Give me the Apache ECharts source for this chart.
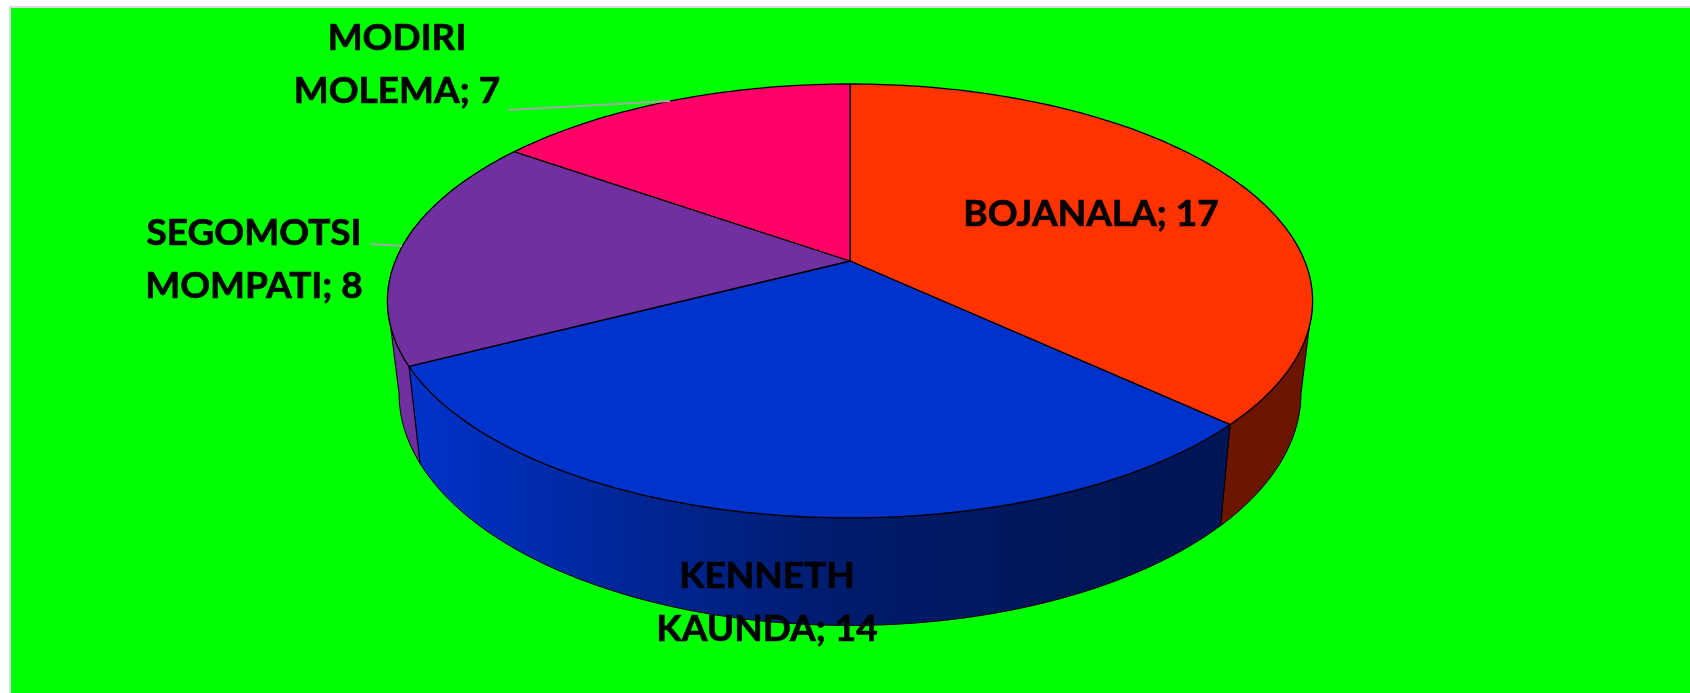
<!DOCTYPE html>
<html>
<head>
<meta charset="utf-8">
<script src="https://cdn.jsdelivr.net/npm/echarts@6/dist/echarts.min.js"></script>
<style>html,body{margin:0;padding:0;background:#fff}#c{width:1690px;height:693px}</style>
</head>
<body>
<div id="c"></div>
<script>
const categories = ['BOJANALA', 'KENNETH\nKAUNDA', 'SEGOMOTSI\nMOMPATI', 'MODIRI\nMOLEMA'];
const values = [17, 14, 8, 7];
const colors = ['#FF3300', '#0033CC', '#7030A0', '#FF0066'];

// Perspective model of the tilted disc
const K = 0.184;
const TOP = {cx: 850, cy: 261, R: 454.7, H: 209.6};
const BOTTOM = {cx: 850, cy: 350.6, R: 443.3, H: 224.3};
const WALL_FROM = 100.6, WALL_TO = 259.4;
const labelPlace = [
  {x: 1091, y: 214},
  {x: 767, y: 603},
  {x: 254, y: 260},
  {x: 397, y: 65}
];
const leaders = [null, null, [[371, 244], [402, 246]], [[508, 110], [670, 101]]];
const FONT = 'bold 37px Lato, "Open Sans", sans-serif';

const total = values.reduce((a, b) => a + b, 0);
function startDeg(i) {
  let s = 0;
  for (let j = 0; j < i; j++) s += values[j];
  return s / total * 360;
}
function project(p, deg) {
  const t = deg * Math.PI / 180;
  const u = Math.sin(t), v = -Math.cos(t), w = 1 - K * v;
  return [p.cx + p.R * u / w, p.cy + p.H * v / w];
}
function arc(p, a, b) {
  const pts = [], n = Math.max(2, Math.ceil(Math.abs(b - a)));
  for (let i = 0; i <= n; i++) pts.push(project(p, a + (b - a) * i / n));
  return pts;
}
function shade(hex, f) {
  const n = parseInt(hex.slice(1), 16);
  const c = s => Math.round(((n >> s) & 255) * f);
  return 'rgb(' + c(16) + ',' + c(8) + ',' + c(0) + ')';
}
function wallFill(hex) {
  const stops = [[0, 1], [.25, .74], [.5, .52], [.75, .43], [1, .42]]
    .map(s => ({offset: s[0], color: shade(hex, s[1])}));
  return new echarts.graphic.LinearGradient(400, 0, 1310, 0, stops, true);
}

const chart = echarts.init(document.getElementById('c'), null, {renderer: 'canvas'});
const rows = values.map((v, i) => ({name: categories[i].replace('\n', ' '), value: v}));

chart.setOption({
  animation: false,
  backgroundColor: '#fff',
  graphic: [{
    type: 'rect', z: -1, silent: true,
    shape: {x: 10, y: 7, width: 1700, height: 700},
    style: {fill: '#00FF00', stroke: '#D9D9D9', lineWidth: 2}
  }],
  series: [
    {
      type: 'custom', coordinateSystem: 'none', z: 2, data: rows, silent: true,
      renderItem: (params) => {
        const i = params.dataIndex;
        const a = Math.max(startDeg(i), WALL_FROM);
        const b = Math.min(startDeg(i) + values[i] / total * 360, WALL_TO);
        if (b <= a) return {type: 'group', children: []};
        const pts = arc(TOP, a, b).concat(arc(BOTTOM, b, a));
        return {type: 'polygon', shape: {points: pts},
          style: {fill: wallFill(colors[i]), stroke: '#000', lineWidth: 1}};
      }
    },
    {
      type: 'custom', coordinateSystem: 'none', z: 3, data: rows, silent: true,
      renderItem: (params) => {
        const i = params.dataIndex;
        const a = startDeg(i), b = a + values[i] / total * 360;
        const pts = [[TOP.cx, TOP.cy]].concat(arc(TOP, a, b));
        return {type: 'polygon', shape: {points: pts},
          style: {fill: colors[i], stroke: '#000', lineWidth: 1.3}};
      }
    },
    {
      type: 'custom', coordinateSystem: 'none', z: 4, data: rows, silent: true,
      renderItem: (params) => {
        const i = params.dataIndex, kids = [];
        if (leaders[i]) kids.push({type: 'polyline', shape: {points: leaders[i]},
          style: {stroke: '#A6A6A6', lineWidth: 2, fill: null}});
        kids.push({type: 'text', x: labelPlace[i].x, y: labelPlace[i].y, style: {
          text: categories[i] + '; ' + values[i], font: FONT, fill: '#000',
          stroke: '#000', lineWidth: 0.7,
          align: 'center', verticalAlign: 'middle', lineHeight: 53
        }});
        return {type: 'group', children: kids};
      }
    }
  ]
});
</script>
</body>
</html>
